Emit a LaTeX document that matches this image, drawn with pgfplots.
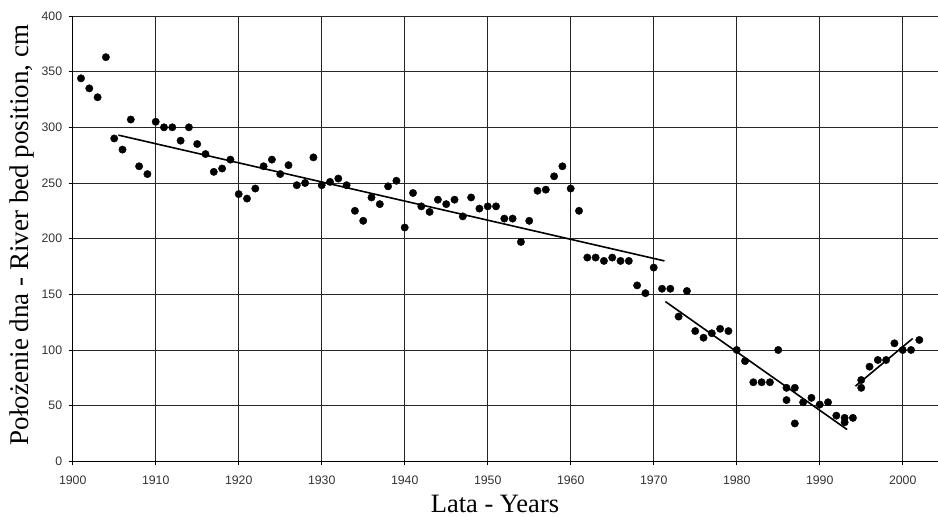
\documentclass[border=0pt]{standalone}
\usepackage{fontspec}
\setmainfont{Liberation Serif}
\setsansfont{Liberation Sans}
\usepackage{pgfplots}
\pgfplotsset{compat=1.18}
\usepackage{pgfplotstable}

% Annual river bed position (cm)
\pgfplotstableread{
year value
1901 344
1902 335
1903 327
1904 363
1905 290
1906 280
1907 307
1908 265
1909 258
1910 305
1911 300
1912 300
1913 288
1914 300
1915 285
1916 276
1917 260
1918 263
1919 271
1920 240
1921 236
1922 245
1923 265
1924 271
1925 258
1926 266
1927 248
1928 250
1929 273
1930 248
1931 251
1932 254
1933 248
1934 225
1935 216
1936 237
1937 231
1938 247
1939 252
1940 210
1941 241
1942 229
1943 224
1944 235
1945 231
1946 235
1947 220
1948 237
1949 227
1950 229
1951 229
1952 218
1953 218
1954 197
1955 216
1956 243
1957 244
1958 256
1959 265
1960 245
1961 225
1962 183
1963 183
1964 180
1965 183
1966 180
1967 180
1968 158
1969 151
1970 174
1971 155
1972 155
1973 130
1974 153
1975 117
1976 111
1977 115
1978 119
1979 117
1980 100
1981 90
1982 71
1983 71
1984 71
1985 100
1986 66
1986 55
1987 66
1987 34
1988 53
1989 57
1990 51
1991 53
1992 41
1993 39
1993 35
1994 39
1995 73
1995 66
1996 85
1997 91
1998 91
1999 106
2000 100
2001 100
2002 109
}\riverbed

\begin{document}
\begin{tikzpicture}
\begin{axis}[
  at={(72.7bp,55.7bp)}, anchor=south west,
  scale only axis, width=865.3bp, height=445.3bp,
  xmin=1900, xmax=2004.25, ymin=0, ymax=400,
  axis x line*=bottom, axis y line*=left,
  xtick={1900,1910,...,2000}, ytick={0,50,...,400},
  grid=major, major grid style={black!85, line width=0.8bp},
  axis line style={black, line width=1bp},
  tick align=outside, major tick length=4bp,
  tick style={black, line width=0.8bp},
  /pgf/number format/1000 sep={},
  /pgf/number format/assume math mode=true,
  ticklabel style={font=\sffamily\fontsize{12.3bp}{14bp}\selectfont, text=black!80},
  xticklabel style={yshift=-7bp},
  yticklabel style={xshift=-3bp},
  xlabel={Lata - Years},
  ylabel={Położenie dna - River bed position, cm},
  every axis x label/.style={at={(axis description cs:0.488,-0.1154)}, anchor=base,
    font=\fontsize{26.5bp}{30bp}\selectfont},
  every axis y label/.style={at={(axis description cs:-0.0586,0.508)}, anchor=center,
    rotate=90, font=\fontsize{27bp}{30bp}\selectfont},
  clip=false,
]
\addplot[only marks, mark=*, mark size=3.7bp, black] table[x=year, y=value] {\riverbed};
% trend lines for the three periods
\addplot[no marks, black, line width=1.6bp] coordinates {(1905.5,293) (1971.3,180)};
\addplot[no marks, black, line width=1.6bp] coordinates {(1971.4,143.5) (1993.3,28.5)};
\addplot[no marks, black, line width=1.6bp] coordinates {(1994.3,67.5) (2001.2,110.3)};
\end{axis}
\pgfresetboundingbox
\useasboundingbox (0,0) rectangle (938bp,517bp);
\end{tikzpicture}
\end{document}
